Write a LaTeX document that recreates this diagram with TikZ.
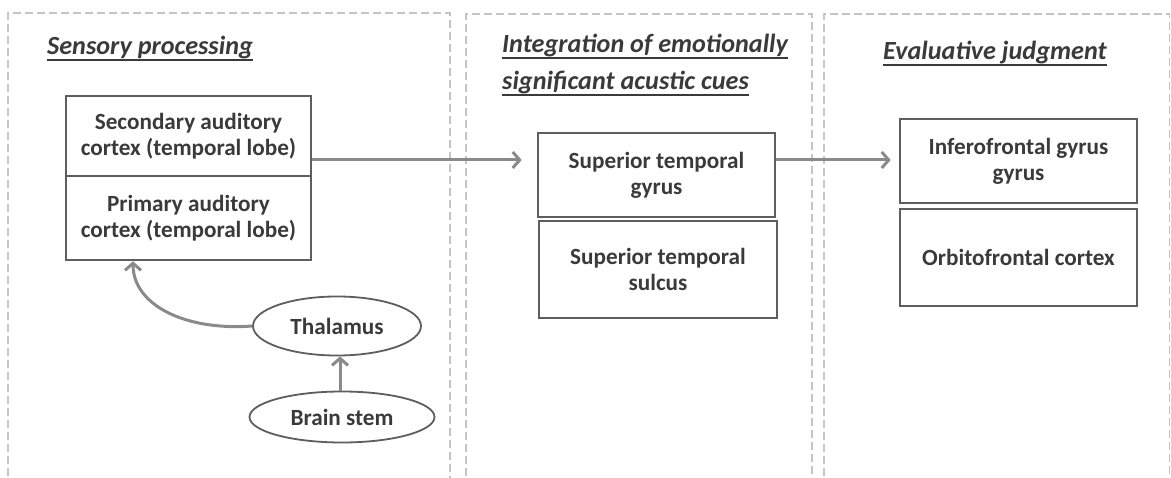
\documentclass[tikz,border=0pt]{standalone}
\usepackage{fontspec}
\setmainfont{Carlito}
\usetikzlibrary{arrows.meta,shapes.geometric}
\definecolor{txt}{HTML}{3A3A3A}
\definecolor{boxc}{HTML}{5E5E5E}
\definecolor{arrc}{HTML}{8A8A8A}
\definecolor{dashc}{HTML}{C4C4C4}
\tikzset{
  panel/.style={draw=dashc, line width=1.5pt, dash pattern=on 8pt off 4pt},
  region/.style={draw=boxc, line width=2.6pt, rectangle, inner sep=0pt, align=center,
    text=txt, font=\fontsize{23.2}{26}\selectfont\bfseries},
  oval/.style={draw=boxc, line width=1.8pt, ellipse, inner sep=0pt,
    text=txt, font=\fontsize{23.2}{26}\selectfont\bfseries},
  arr/.style={draw=arrc, line width=3pt, -{Straight Barb[length=7pt,width=16pt,line width=3pt]}},
  ttl/.style={anchor=base west, inner sep=0pt, text=txt, font=\fontsize{26.2}{37}\selectfont\bfseries\itshape},
  uline/.style={draw=txt, line width=1.4pt}
}
\begin{document}
\begin{tikzpicture}[x=1pt,y=-1pt]
\useasboundingbox (0,0) rectangle (1171,478);
\clip (0,0) rectangle (1171,478);
% panels
\draw[panel] (8,500) -- (8,13) -- (450,13) -- (450,500);
\draw[panel] (466,500) -- (466,14) -- (812,14) -- (812,500);
\draw[panel] (824,500) -- (824,14) -- (1169.5,14) -- (1169.5,500);
% titles
\node[ttl] (t1) at (47,55) {Sensory processing};
\node[ttl] (t2a) at (502,53) {Integration of emotionally};
\node[ttl] (t2b) at (502,90) {significant acustic cues};
\node[ttl] (t3) at (883,60) {Evaluative judgment};
\foreach \t in {t1,t2a,t2b,t3}{
  \draw[uline] ([yshift=-5pt]\t.base west) -- ([yshift=-5pt]\t.base east);
}
% boxes
\node[region, minimum width=245pt, minimum height=80pt] (sec) at (188.5,136) {Secondary auditory\\cortex (temporal lobe)};
\node[region, minimum width=245pt, minimum height=84pt] (pri) at (188.5,218) {Primary auditory\\cortex (temporal lobe)};
\node[region, minimum width=237pt, minimum height=84pt] (stg) at (656.5,175) {Superior temporal\\gyrus};
\node[region, minimum width=238pt, minimum height=97pt] (sts) at (658,269.5) {Superior temporal\\sulcus};
\node[region, minimum width=237pt, minimum height=84pt] (ifg) at (1018.5,161) {Inferofrontal gyrus\\gyrus};
\node[region, minimum width=237pt, minimum height=97pt] (ofc) at (1018.5,257.5) {Orbitofrontal cortex};
\node[oval, minimum width=168pt, minimum height=59pt] (thal) at (337,326) {Thalamus};
\node[oval, minimum width=185pt, minimum height=51pt] (bs) at (342,417) {Brain stem};
% connectors
\coordinate (lvl) at (0,160);
\coordinate (tgt) at (133,0);
\draw[arr, shorten >=15pt] (sec.east |- lvl) -- (stg.west |- lvl);
\draw[arr, shorten >=8pt] (stg.east |- lvl) -- (ifg.west |- lvl);
\draw[arr] (bs.north -| 340,0) -- (thal.south -| 340,0);
\draw[arr] (thal.west) .. controls (185,331) and (133,305) .. (tgt |- pri.south);
\end{tikzpicture}
\end{document}
